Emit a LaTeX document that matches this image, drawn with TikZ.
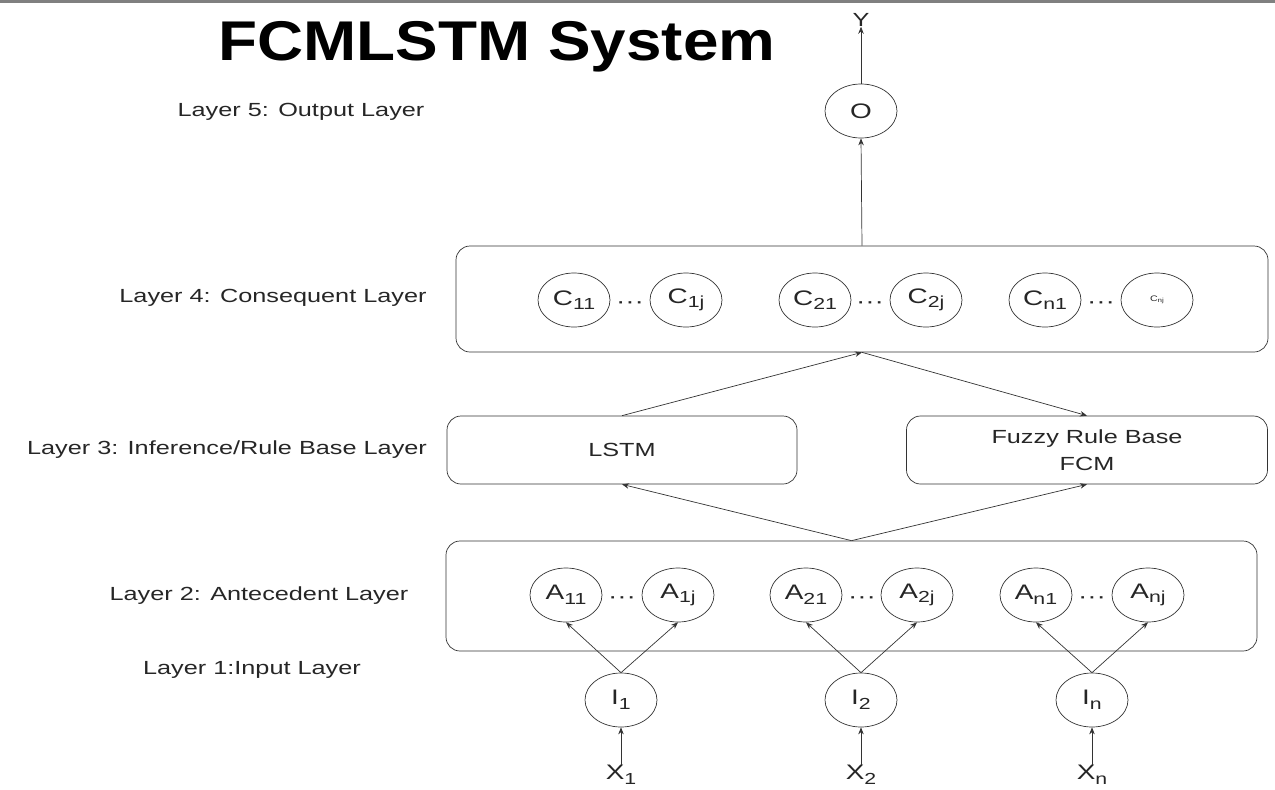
\documentclass[tikz,border=0pt]{standalone}
\usepackage{fontspec}
\setmainfont{Liberation Sans}[FakeStretch=1.33]
\newfontfamily\titlefont{Liberation Sans}[FakeStretch=1.14]
\usetikzlibrary{shapes.geometric,arrows.meta}
\newcommand\subx[1]{\raisebox{-0.22em}{\fontsize{16}{16}\selectfont #1}}
\begin{document}
\begin{tikzpicture}[x=1pt,y=-1pt,
  circ/.style={ellipse, draw=black!80, line width=0.7pt, minimum width=72pt, minimum height=54pt, inner sep=0pt, font=\fontsize{21}{23}\selectfont, text=black!85},
  layerbox/.style={draw=black!80, line width=0.7pt, rounded corners=14pt, inner sep=0pt},
  lab/.style={font=\fontsize{19}{23}\selectfont, text=black!85, inner sep=0pt},
  dots/.style={font=\fontsize{21}{23}\selectfont, text=black!85, inner sep=0pt},
  arr/.style={draw=black!80, line width=0.7pt, -{Stealth[length=7pt,width=5.5pt]}},
  plain/.style={draw=black!80, line width=0.7pt}]
\useasboundingbox (0,0) rectangle (1275,790);
\fill[black!50] (0,0) rectangle (1275,3);

% title
\node[inner sep=0pt, font=\titlefont\bfseries\fontsize{56}{60}\selectfont] (title) at (497,47) {FCMLSTM System};

% layer labels
\node[lab] (l5) at (301,112) {Layer 5: Output Layer};
\node[lab] (l4) at (273,298) {Layer 4: Consequent Layer};
\node[lab] (l3) at (227,450) {Layer 3: Inference/Rule Base Layer};
\node[lab] (l2) at (259,596) {Layer 2: Antecedent Layer};
\node[lab] (l1) at (252,670) {Layer 1:Input Layer};

% output
\node[lab] (Y) at (861,20) {Y};
\node[circ] (O) at (861,111) {O};

% layer 4 box
\node[layerbox, minimum width=812pt, minimum height=106pt] (L4) at (862,299) {};
\node[circ] (C11) at (574,300) {C\subx{11}};
\node[circ] (C1j) at (686,300) {C\subx{1j}};
\node[circ] (C21) at (815,300) {C\subx{21}};
\node[circ] (C2j) at (926,300) {C\subx{2j}};
\node[circ] (Cn1) at (1045,300) {C\subx{n1}};
\node[circ, font=\fontsize{8}{9}\selectfont] (Cnj) at (1157,300) {C\raisebox{-1.5pt}{\fontsize{6}{6}\selectfont nj}};
\node[dots] (dc1) at (630,305) {···};
\node[dots] (dc2) at (870,305) {···};
\node[dots] (dc3) at (1101,305) {···};

% layer 3
\node[layerbox, minimum width=350pt, minimum height=68pt, lab] (LSTM) at (622,450) {LSTM};
\node[layerbox, minimum width=361pt, minimum height=68pt, lab, align=center, font=\fontsize{19}{27}\selectfont] (FRB) at (1087,450) {Fuzzy Rule Base\\FCM};

% layer 2 box
\node[layerbox, minimum width=811pt, minimum height=110pt] (L2) at (851.5,596) {};
\node[circ] (A11) at (566,595) {A\subx{11}};
\node[circ] (A1j) at (678,595) {A\subx{1j}};
\node[circ] (A21) at (806,595) {A\subx{21}};
\node[circ] (A2j) at (917,595) {A\subx{2j}};
\node[circ] (An1) at (1036,595) {A\subx{n1}};
\node[circ] (Anj) at (1148,595) {A\subx{nj}};
\node[dots] (da1) at (622,600) {···};
\node[dots] (da2) at (862,600) {···};
\node[dots] (da3) at (1092,600) {···};

% layer 1
\node[circ] (I1) at (621,700) {I\subx{1}};
\node[circ] (I2) at (861,700) {I\subx{2}};
\node[circ] (In) at (1092,700) {I\subx{n}};

\node[lab, font=\fontsize{21}{23}\selectfont] (X1) at (621,775) {X\subx{1}};
\node[lab, font=\fontsize{21}{23}\selectfont] (X2) at (861,775) {X\subx{2}};
\node[lab, font=\fontsize{21}{23}\selectfont] (Xn) at (1092,775) {X\subx{n}};

% connectors
\draw[arr] (O.north) -- (Y.south);
\draw[arr] (L4.north) -- (O.south);
\draw[arr] (LSTM.north) -- (L4.south);
\draw[arr] (L4.south) -- (FRB.north);
\draw[arr] (L2.north) -- (LSTM.south);
\draw[arr] (L2.north) -- (FRB.south);
\draw[arr] (I1.north) -- (A11.south);
\draw[arr] (I1.north) -- (A1j.south);
\draw[arr] (I2.north) -- (A21.south);
\draw[arr] (I2.north) -- (A2j.south);
\draw[arr] (In.north) -- (An1.south);
\draw[arr] (In.north) -- (Anj.south);
\draw[arr] (X1.north) -- (I1.south);
\draw[arr] (X2.north) -- (I2.south);
\draw[arr] (Xn.north) -- (In.south);
\end{tikzpicture}
\end{document}
